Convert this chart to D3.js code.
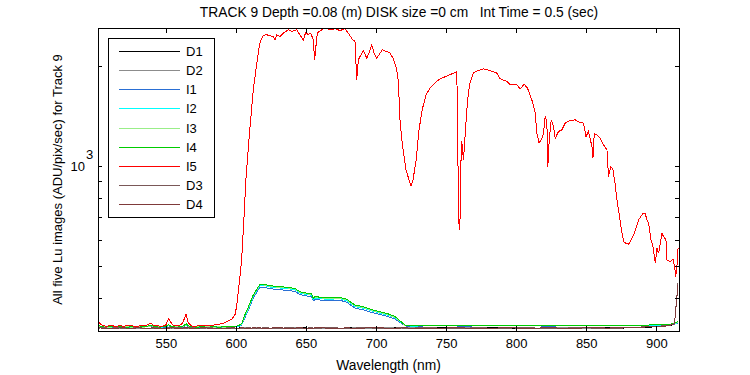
<!DOCTYPE html>
<html><head><meta charset="utf-8">
<script src="https://cdn.jsdelivr.net/npm/d3@7"></script>
<style>
body{margin:0;background:#fff}
svg text{font-family:"Liberation Sans",Arial,Helvetica,sans-serif;fill:#000}
</style>
</head><body>
<svg id="chart" width="750" height="375"></svg>
<script>
const titleText = "TRACK 9 Depth =0.08 (m) DISK size =0 cm   Int Time = 0.5 (sec)";
const xLabelText = "Wavelength (nm)";
const yLabelText = "All five Lu images (ADU/pix/sec) for Track 9";
const xTickValues = [550, 600, 650, 700, 750, 800, 850, 900];
const yTickValues = [400, 500, 600, 700, 800, 900, 1000, 2000];
const yLabelledTick = 1000;
const xDomain = [501.6, 916.2];
const yDomain = [318.5, 2600];

const seriesNames = ["D1", "D2", "I1", "I2", "I3", "I4", "I5", "D3", "D4"];
const seriesColors = ["#000000", "#8c8c8c", "#2a6fd4", "#00ffff", "#99ee88", "#00cc00", "#ff0000", "#7a5858", "#7f3a3a"];

const lowWavelengths = [502,506,510,514,518,522,526,530,534,538,540,542,546,550,552,554,558,562,564.5,567,
  572,576,580,584,588,592,596,598,601.6,604.1,606.4,610,612.4,614.8,617.1,619.5,624.3,631.4,637,642.1,
  645.7,650.5,654.1,655.2,656.4,664.8,674.3,679.1,685,690.9,698.1,707.6,713.6,717.1,720.7,726.6,735,745,755,765,
  775,785,795,805,815,825,835,845,855,865,875,885,895,905,910,913,915.5];

const d1Values = [327,324,325,323,325,324,326,324,325,323, 325,324,326,325,327,324,325,324,326,325,
  324,325,323,325,324,326,325,324,325,326, 324,325,324,326,325,324,325,323,325,324,
  326,325,324,325,323,325,324,326,325,324, 325,324,326,325,324,325,324,326,325,324,
  325,326,324,325,324,326,325,324,325,326, 325,326,327,329,331,334,340];
const d2Values = [326,325,324,325,324,326,325,323,325,324, 326,325,324,326,325,325,324,326,325,324,
  325,323,325,324,326,325,324,325,324,325, 326,324,325,326,324,325,324,325,324,326,
  325,324,325,324,326,324,325,324,326,325, 324,326,325,324,325,326,325,324,325,326,
  324,325,326,325,324,325,326,325,324,325, 326,327,328,330,332,335,338];
const i1Values = [328,327,326,327,328,327,326,327,328,328, 329,327,326,327,330,327,326,327,331,327,
  326,327,326,327,326,327,327,327, 328,332,349,377,400,416,431,432,
  427,424,422,419,410,406,404,392,396, 393,394,389,373,369,361,353,346,338,330,328,
  330,331,330,329,331,330,330,331,330,329, 331,330,330,331,330,330,331,331,332,334,337];
const i2Values = [329,327,328,327,328,327,328,327,328,329, 330,328,327,328,331,328,327,328,332,328,
  327,328,327,328,327,328,327,328, 329,333,352,381,405,421,436,437,
  432,429,427,424,414,410,408,396,400, 397,398,393,377,373,365,356,349,340,331,329,
  331,330,331,330,331,332,331,330,331,330, 331,330,331,330,331,330,331,332,333,335,338];
const i3Values = [330,328,327,328,327,328,327,328,327,329, 330,327,328,328,332,327,328,328,333,327,
  328,327,328,327,328,327,328,328, 330,334,354,384,407,423,438,439,
  434,431,429,426,416,412,410,398,402, 399,400,395,379,375,366,358,350,341,331,330,
  332,331,332,331,332,331,332,331,332,331, 332,332,331,332,332,331,332,333,334,335,339];
const i4Values = [331,327,328,327,328,327,328,327,328,330, 331,328,327,329,333,328,327,329,335,328,
  327,328,327,328,327,328,328,328, 330,335,356,386,409,425,440,441,
  436,433,431,428,418,414,412,400,404, 401,402,397,381,377,368,360,352,342,332,330,
  331,332,331,332,331,332,331,332,331,332, 331,331,332,331,331,332,332,333,334,336,340];
const d3Values = [325,326,324,326,325,324,325,326,324,325, 324,326,325,324,326,325,326,325,324,326,
  325,324,326,325,324,325,326,324,325,324, 325,326,324,325,324,326,325,324,326,325,
  324,325,326,325,324,326,325,324,325,326, 325,324,325,326,324,325,326,325,324,325,
  326,324,325,326,325,324,325,326,325,324, 325,327,328,330,332,336,444];
const d4Values = [326,324,325,324,326,325,324,326,325,324, 326,325,324,325,324,326,324,325,326,325,
  324,326,325,324,325,324,325,326,324,326, 325,324,326,325,326,324,325,326,324,325,
  326,324,325,324,326,325,324,326,324,325, 326,325,324,325,326,324,325,324,326,325,
  324,325,326,324,325,326,324,325,326,325, 326,326,328,329,331,335,438];

const i5Wavelengths = [502,503,505,508,511,514,517,520,523,526,529,532,535,537,539.5,541,544,547,550,552,
  554,556,559,562,564.4,566,568,571,574,577,580,583,586,588.6,591,593.4,596.9,599.3,600.5,601.6,
  602.9,604.1,605.7,607.1,609.5,612.4,614.3,616.6,617.9,619.5,621.9,626.6,627.9,629.1,631.4,633.8,637.4,639.8,643.4,645.7,
  648.1,649.8,651.6,653.4,655.2,656.2,657.1,658.1,660,663.6,667.1,670.7,674.3,677.9,680.2,683.4,685,686.2,687.4,688.6,
  690.9,693.4,695,696.9,698.6,700.5,702.9,704.5,707.6,710,712.4,714.8,715.9,717.1,718.4,719.3,721.4,723.6,725,726.4,
  728.6,730.7,732.9,735.7,738.6,742.1,745.7,751.4,755,757.6,758.1,758.6,759.3,760,760.5,761.2,762.4,763.6,764.8,765.9,
  767.1,769.5,773.1,776.6,781.4,786.2,788.6,793.4,795.7,800.5,802.9,805.7,808.1,811.2,813.6,814.8,816.4,818.4,819.5,820.7,
  821.9,822.6,823.6,825,826.6,827.9,830.2,832.6,835,838.6,842.1,845.7,848.1,849.8,851.6,854.1,854.8,855.7,857.6,860,
  862.4,864.8,865.9,867.6,869.1,870.7,871.9,873.8,875.5,877.1,880.2,881.4,883.8,887.4,890.5,892.1,893.4,894.5,896.2,897.4,
  899.3,900.5,901.6,902.9,904.1,905.2,906.9,907.6,910,911.9,913.1,913.8,914.8,915.5];
const i5Values = [342,335,331,329,332,328,331,329,332,330,328,331,330,333,337,332,330,329,332,347,
  336,330,330,336,358,338,330,329,331,330,332,331,333,334,336,340,345,356,377,414,
  464,521,688,907,1225,1694,1946,2287,2396,2469,2481,2452,2396,2481,2452,2510,2568,2538,2568,2481,
  2396,2520,2481,2510,2396,2086,2287,2510,2550,2599,2568,2586,2555,2586,2510,2396,2368,1816,2086,2134,
  2224,2110,2185,2314,2185,2110,2185,2235,2209,2185,2096,1946,1795,1376,1198,1117,973,907,871,907,
  1042,1284,1475,1636,1718,1778,1828,1870,1900,1923,1500,900,641,700,1000,1184,1042,1240,1475,1659,
  1778,1910,1936,1960,1936,1902,1828,1795,1754,1754,1706,1762,1714,1580,1441,1254,1171,1212,1254,1408,
  1360,995,1198,1376,1313,1212,1268,1284,1345,1369,1376,1350,1345,1225,1268,1143,1055,1248,1240,1212,
  1157,1117,929,995,973,877,790,704,627,588,581,592,620,688,720,717,688,672,599,578,
  509,565,546,585,627,612,599,521,515,524,497,464,503,565];

const margin = {left: 98, top: 28, right: 679, bottom: 331};
const svg = d3.select("#chart");
const x = d3.scaleLinear().domain(xDomain).range([margin.left, margin.right]);
const y = d3.scaleLog().domain(yDomain).range([margin.bottom, margin.top]);

svg.append("rect").attr("width", 750).attr("height", 375).attr("fill", "#fff");

const defs = svg.append("defs");
defs.append("clipPath").attr("id", "plotclip").append("rect")
  .attr("x", margin.left).attr("y", margin.top)
  .attr("width", margin.right - margin.left).attr("height", margin.bottom - margin.top);

const series = [
  {name: "D1", xs: lowWavelengths, ys: d1Values},
  {name: "D2", xs: lowWavelengths, ys: d2Values},
  {name: "I1", xs: lowWavelengths, ys: i1Values},
  {name: "I2", xs: lowWavelengths, ys: i2Values},
  {name: "I3", xs: lowWavelengths, ys: i3Values},
  {name: "I4", xs: lowWavelengths, ys: i4Values},
  {name: "I5", xs: i5Wavelengths, ys: i5Values},
  {name: "D3", xs: lowWavelengths, ys: d3Values},
  {name: "D4", xs: lowWavelengths, ys: d4Values}
];

const line = d3.line().x(d => x(d[0])).y(d => y(d[1]));
const plot = svg.append("g").attr("clip-path", "url(#plotclip)");
series.forEach((s, i) => {
  const pts = s.xs.map((w, k) => [w, s.ys[k]]);
  plot.append("path").datum(pts)
    .attr("d", line)
    .attr("fill", "none")
    .attr("stroke", seriesColors[i])
    .attr("stroke-width", 1)
    .attr("shape-rendering", "crispEdges");
});

// axes
const fs = 13;
const xb = svg.append("g").attr("transform", `translate(0,${margin.bottom})`)
  .call(d3.axisBottom(x).tickValues(xTickValues).tickSizeInner(-5).tickSizeOuter(0).tickPadding(8));
const xt = svg.append("g").attr("transform", `translate(0,${margin.top})`)
  .call(d3.axisTop(x).tickValues(xTickValues).tickSizeInner(-5).tickSizeOuter(0).tickFormat(""));
const yl = svg.append("g").attr("transform", `translate(${margin.left},0)`)
  .call(d3.axisLeft(y).tickValues(yTickValues).tickSizeInner(-4).tickSizeOuter(0).tickFormat(""));
const yr = svg.append("g").attr("transform", `translate(${margin.right},0)`)
  .call(d3.axisRight(y).tickValues(yTickValues).tickSizeInner(-4).tickSizeOuter(0).tickFormat(""));
[xb, xt, yl, yr].forEach(g => {
  g.select(".domain").remove();
  g.selectAll("line").attr("stroke", "#000").attr("shape-rendering", "crispEdges");
  g.selectAll("text").attr("font-size", fs).attr("font-family", null).style("fill", "#000");
});

svg.append("rect")
  .attr("x", margin.left + 0.5).attr("y", margin.top + 0.5)
  .attr("width", margin.right - margin.left).attr("height", margin.bottom - margin.top)
  .attr("fill", "none").attr("stroke", "#000").attr("stroke-width", 1)
  .attr("shape-rendering", "crispEdges");

// decade label 10^3
const yd = y(yLabelledTick);
svg.append("text").attr("x", 85).attr("y", yd + 5).attr("text-anchor", "end")
  .attr("font-size", fs).text("10");
svg.append("text").attr("x", 86).attr("y", yd - 7).attr("text-anchor", "start")
  .attr("font-size", fs).text("3");

// title and labels
svg.append("text").attr("x", 399).attr("y", 17).attr("text-anchor", "middle")
  .attr("font-size", 13.8).style("white-space", "pre").text(titleText);
svg.append("text").attr("x", (margin.left + margin.right) / 2).attr("y", 370)
  .attr("text-anchor", "middle").attr("font-size", 13.8).text(xLabelText);
svg.append("text").attr("transform", `translate(62,${(margin.top + margin.bottom) / 2}) rotate(-90)`)
  .attr("text-anchor", "middle").attr("font-size", fs).text(yLabelText);

// legend
const lg = svg.append("g");
lg.append("rect").attr("x", 108.5).attr("y", 38.5).attr("width", 106).attr("height", 179)
  .attr("fill", "#fff").attr("stroke", "#000").attr("shape-rendering", "crispEdges");
seriesNames.forEach((n, i) => {
  const ry = 51 + i * 19.15;
  lg.append("line").attr("x1", 119).attr("x2", 180).attr("y1", Math.round(ry) + 0.5).attr("y2", Math.round(ry) + 0.5)
    .attr("stroke", seriesColors[i]).attr("shape-rendering", "crispEdges");
  lg.append("text").attr("x", 186).attr("y", ry + 5).attr("font-size", fs).text(n);
});
</script>
</body></html>
